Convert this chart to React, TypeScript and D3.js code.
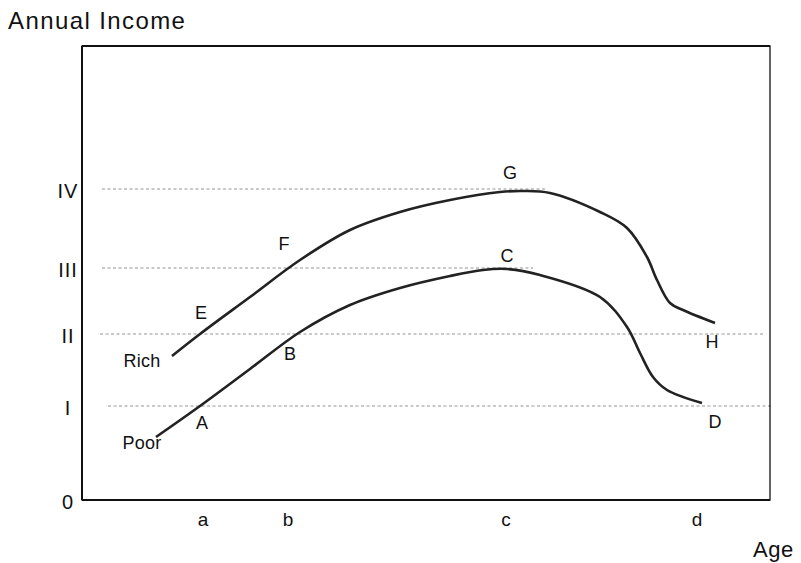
import React from "react";
import * as d3 from "d3";

// Income levels (arbitrary units above 0)
const levelLabels = ["0", "I", "II", "III", "IV"];
const levelValues = [0, 94, 166, 232, 311];
const gridEnds = [0, 690, 681, 451, 465]; // age at which dashed line ends
const gridStarts = [0, 26, 18, 20, 20];

// Age ticks
const ageLabels = ["a", "b", "c", "d"];
const ageValues = [121, 206, 424, 615];

// Curves: [age, income]
const richCurve: [number, number][] = [
  [90, 144], [118, 166], [168, 203], [218, 240], [268, 270], [318, 288], [368, 300],
  [418, 308], [441, 309], [468, 307], [518, 288], [545, 272], [565, 243], [575, 220],
  [588, 197], [601, 190], [633, 177],
];
const poorCurve: [number, number][] = [
  [74, 63], [118, 94], [168, 131], [218, 168], [268, 195], [318, 212], [368, 224],
  [401, 230], [425, 231], [458, 225], [518, 203], [545, 173], [558, 147], [571, 123],
  [585, 110], [620, 97],
];

// Point labels: [text, age, income]
const pointLabels: [string, number, number][] = [
  ["E", 119, 187], ["F", 202, 256], ["G", 428, 327], ["H", 630, 158],
  ["A", 120, 77], ["B", 208, 146], ["C", 425, 244], ["D", 633, 78],
];
const seriesLabels: [string, number, number][] = [
  ["Rich", 60, 139], ["Poor", 60, 57],
];

const W = 801, H = 563;
const X0 = 82, X1 = 770, Y0 = 500, Y1 = 46;

export default function App() {
  const x = d3.scaleLinear().domain([0, X1 - X0]).range([X0, X1]);
  const y = d3.scaleLinear().domain([0, Y0 - Y1]).range([Y0, Y1]);
  const line = d3.line<[number, number]>().x(d => x(d[0])).y(d => y(d[1])).curve(d3.curveCatmullRom.alpha(0.5));
  const font = "'Liberation Sans', Arial, Helvetica, sans-serif";
  return (
    <svg width={W} height={H} style={{ position: "absolute", left: 0, top: 0, background: "#fff" }} fontFamily={font}>
      <rect x={0} y={0} width={W} height={H} fill="#fff" />
      <text x={8} y={29} fontSize={24} letterSpacing={1.4} fill="#111">Annual Income</text>
      {/* grid lines */}
      {levelValues.map((v, i) => i === 0 ? null : (
        <line key={i} x1={x(gridStarts[i])} x2={x(gridEnds[i])} y1={y(v)} y2={y(v)}
          stroke="#888" strokeWidth={0.9} strokeDasharray="3,2.5" />
      ))}
      {/* frame */}
      <rect x={X0} y={Y1} width={X1 - X0} height={Y0 - Y1} fill="none" stroke="#111" strokeWidth={1.3} />
      <line x1={X0} x2={X0} y1={Y1} y2={Y0} stroke="#111" strokeWidth={2} />
      <line x1={X0} x2={X1} y1={Y0} y2={Y0} stroke="#111" strokeWidth={2} />
      <line x1={X0} x2={X1} y1={Y1} y2={Y1} stroke="#111" strokeWidth={2} />
      {/* y labels */}
      {levelValues.map((v, i) => (
        <text key={i} x={68} y={y(v) + 2} dy="0.35em" textAnchor="middle" fontSize={20} letterSpacing={1} fill="#111">{levelLabels[i]}</text>
      ))}
      {/* x labels */}
      {ageValues.map((v, i) => (
        <text key={i} x={x(v)} y={526} textAnchor="middle" fontSize={19} fill="#111">{ageLabels[i]}</text>
      ))}
      <text x={753} y={557} fontSize={22} letterSpacing={0.5} fill="#111">Age</text>
      {/* curves */}
      <path d={line(richCurve) || ""} fill="none" stroke="#222" strokeWidth={2.6} />
      <path d={line(poorCurve) || ""} fill="none" stroke="#222" strokeWidth={2.6} />
      {pointLabels.map(([t, a, v], i) => (
        <text key={i} x={x(a)} y={y(v)} dy="0.35em" textAnchor="middle" fontSize={18} fill="#111">{t}</text>
      ))}
      {seriesLabels.map(([t, a, v], i) => (
        <text key={i} x={x(a)} y={y(v)} dy="0.35em" textAnchor="middle" fontSize={18} letterSpacing={0.3} fill="#111">{t}</text>
      ))}
    </svg>
  );
}
